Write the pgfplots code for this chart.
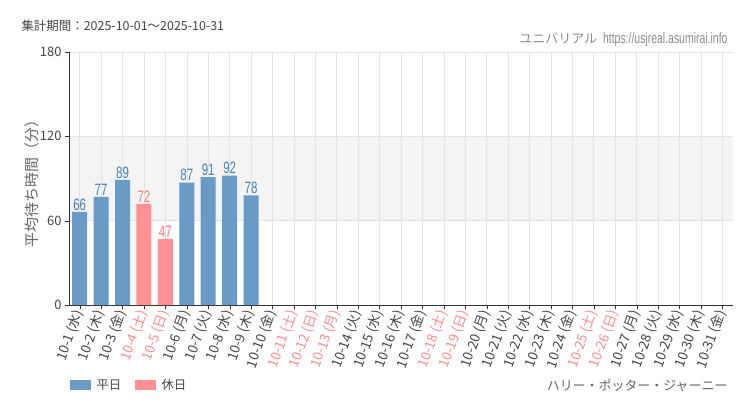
\documentclass[border=0pt]{standalone}
\usepackage{pgfplots}
\pgfplotsset{compat=1.18}
\usepackage{fontspec}
\setmainfont{Noto Sans CJK JP}
\newfontfamily\condfont[FakeStretch=0.7]{Liberation Sans}
\definecolor{wk}{HTML}{6A9AC6}
\definecolor{hol}{HTML}{FF9194}
\definecolor{wklab}{HTML}{4A80B8}
\definecolor{hollab}{HTML}{FF7A80}
\definecolor{txt}{HTML}{444444}
\definecolor{ht}{HTML}{FF8A8E}
\definecolor{band}{HTML}{F3F4F3}
\definecolor{gridc}{HTML}{E3E3E3}
\newcommand{\h}[1]{\textcolor{ht}{#1}}
\begin{document}
\begin{tikzpicture}[x=1bp,y=1bp]
\path (0,0) rectangle (750,410);
\begin{axis}[
  set layers,
  at={(69bp,105bp)}, anchor=south west, scale only axis,
  width=664bp, height=253bp,
  xmin=-0.5, xmax=30.5, ymin=0, ymax=180,
  ytick={0,60,120,180},
  xtick={0,...,30},
  xticklabels={10-1 (水),10-2 (木),10-3 (金),\h{10-4 (土)},\h{10-5 (日)},10-6 (月),10-7 (火),10-8 (水),10-9 (木),10-10 (金),\h{10-11 (土)},\h{10-12 (日)},\h{10-13 (月)},10-14 (火),10-15 (水),10-16 (木),10-17 (金),\h{10-18 (土)},\h{10-19 (日)},10-20 (月),10-21 (火),10-22 (水),10-23 (木),10-24 (金),\h{10-25 (土)},\h{10-26 (日)},10-27 (月),10-28 (火),10-29 (水),10-30 (木),10-31 (金)},
  x tick label style={rotate=70, anchor=east, font=\fontsize{13.5}{15}\selectfont, text=txt, inner sep=2pt},
  y tick label style={font=\fontsize{13}{15}\selectfont, text=txt},
  /pgf/number format/assume math mode=true,
  axis x line*=bottom, axis y line*=left,
  axis line style={draw=black!80, -},
  tick style={draw=black!80},
  tick align=outside,
  major tick length=4bp,
  grid=major,
  major grid style={draw=gridc, line width=0.6pt},
  axis background/.style={fill=white},
  ybar, bar width=15bp, bar shift=0pt,
  nodes near coords,
  every node near coord/.append style={font=\condfont\fontsize{16.5}{18}\selectfont, inner sep=1.5pt},
]
\begin{pgfonlayer}{axis background}
\fill[band] (axis cs:-0.5,60) rectangle (axis cs:30.5,120);
\end{pgfonlayer}
\addplot[fill=wk, draw=none, every node near coord/.append style={text=wklab}] coordinates {(0,66) (1,77) (2,89) (5,87) (6,91) (7,92) (8,78)};
\addplot[fill=hol, draw=none, every node near coord/.append style={text=hollab}] coordinates {(3,72) (4,47)};
\end{axis}
\node[anchor=west, text=txt, font=\fontsize{12.5}{14}\selectfont] at (18,384) {集計期間：2025-10-01～2025-10-31};
\node[anchor=east, text=black!45, font=\fontsize{13}{15}\selectfont] at (731,370) {ユニバリアル\hspace{6bp}{\condfont\fontsize{15}{16}\selectfont https://usjreal.asumirai.info}};
\node[rotate=90, text=black!60, font=\fontsize{15}{17}\selectfont] at (32,230) {平均待ち時間（分）};
\fill[wk] (70,20) rectangle (91,30);
\node[anchor=west, text=txt, font=\fontsize{12.5}{14}\selectfont] at (93,25) {平日};
\fill[hol] (135,20) rectangle (156,30);
\node[anchor=west, text=txt, font=\fontsize{12.5}{14}\selectfont] at (158,25) {休日};
\node[anchor=east, text=black!60, font=\fontsize{13}{15}\selectfont] at (731,24) {ハリー・ポッター・ジャーニー};
\end{tikzpicture}
\end{document}
